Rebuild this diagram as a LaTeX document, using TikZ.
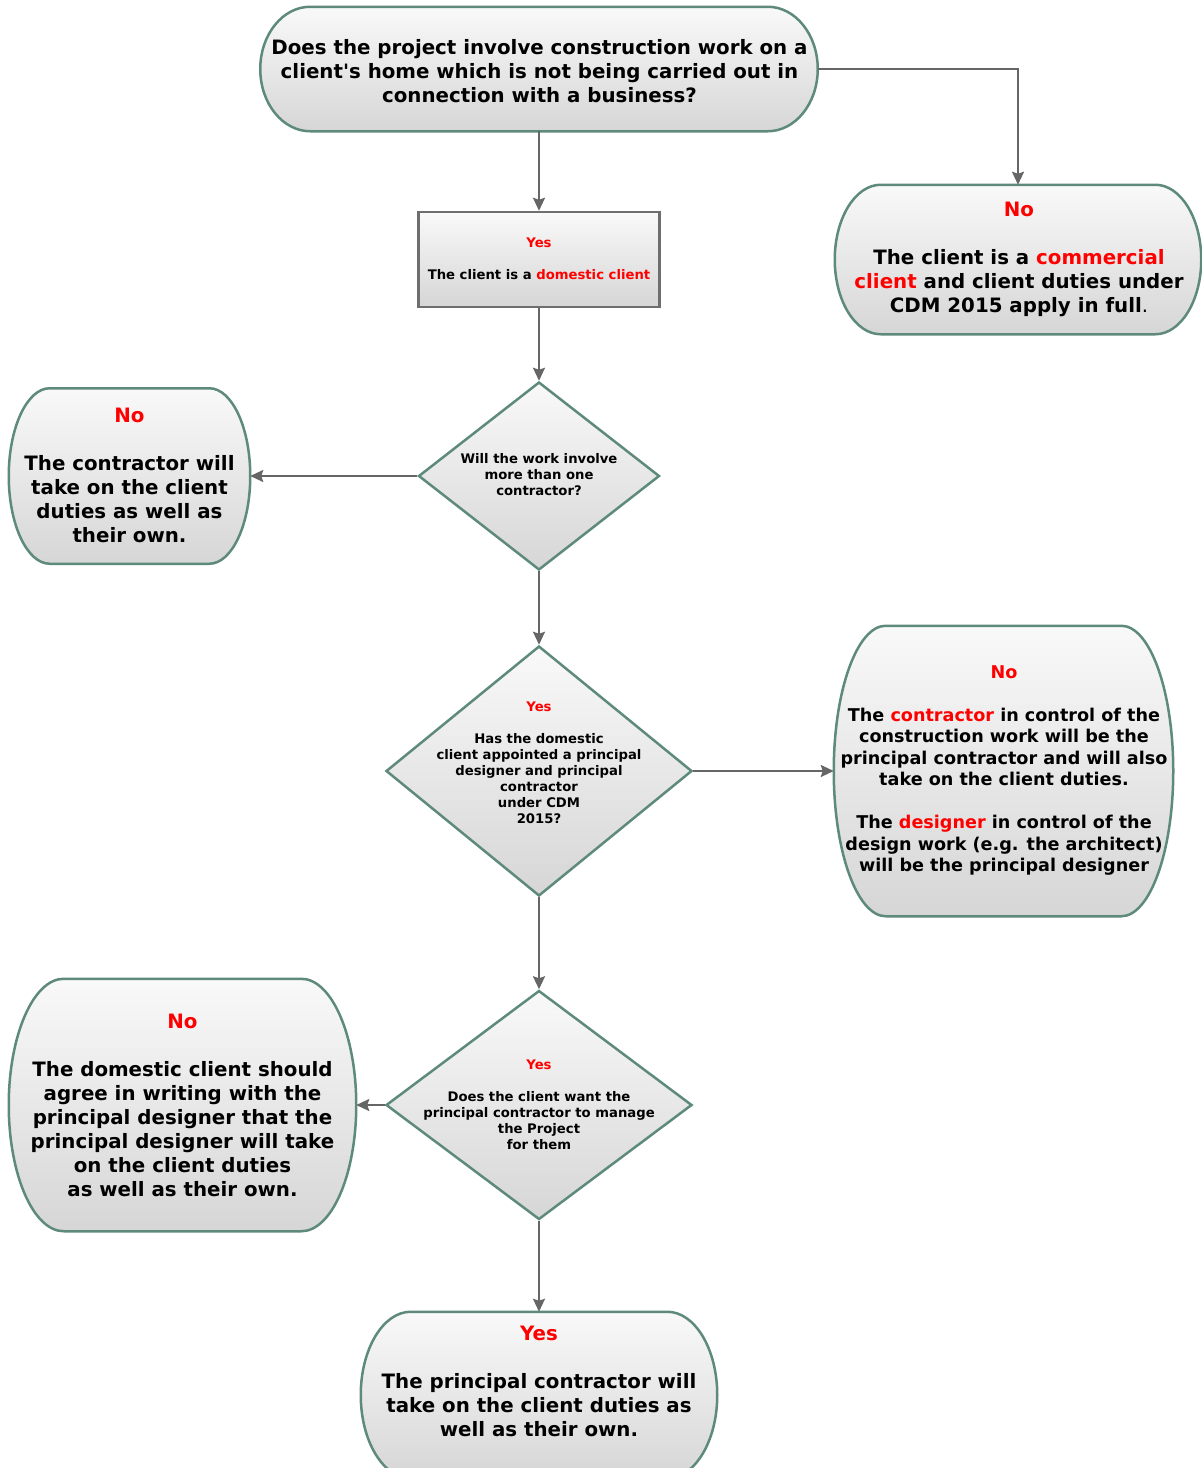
\documentclass[tikz,border=0pt]{standalone}
\usepackage{fontspec}
\setmainfont{DejaVu Sans}
\usetikzlibrary{shapes.geometric,arrows.meta,calc}
\definecolor{edgegreen}{RGB}{94,138,124}
\definecolor{arrowgray}{RGB}{102,102,102}
\definecolor{boxgray}{RGB}{110,110,110}
\definecolor{ired}{RGB}{255,0,0}
\definecolor{shtop}{RGB}{249,249,249}
\definecolor{shbot}{RGB}{214,214,214}
\newcommand\redtx[1]{\textcolor{ired}{#1}}
\newcommand\capsuleshape[2]{%
  \path[capsulestyle] let \p1=(#1.north west), \p2=(#1.south east), \n1={(\y1-\y2)/2} in
    (\x1+#2pt,\y1) -- (\x2-#2pt,\y1)
    arc[start angle=90,end angle=-90,x radius=#2pt,y radius=\n1]
    -- (\x1+#2pt,\y2)
    arc[start angle=270,end angle=90,x radius=#2pt,y radius=\n1] -- cycle;}
\tikzset{
  capsulestyle/.style={draw=edgegreen, line width=2.5pt, top color=shtop, bottom color=shbot},
  holder/.style={rectangle, inner sep=0pt, outer sep=1.25pt},
  dia/.style={diamond, draw=edgegreen, line width=2.5pt, top color=shtop, bottom color=shbot, inner sep=0pt},
  rbox/.style={rectangle, draw=boxgray, line width=2.5pt, top color=shtop, bottom color=shbot, inner sep=0pt},
  bigtxt/.style={font=\fontsize{19.8}{24}\selectfont\bfseries, align=center, inner sep=0pt},
  midtxt/.style={font=\fontsize{17.6}{21.5}\selectfont\bfseries, align=center, inner sep=0pt},
  smalltxt/.style={font=\fontsize{13.2}{16}\selectfont\bfseries, align=center, inner sep=0pt},
  arr/.style={draw=arrowgray, line width=2pt, -{Stealth[length=13pt,width=12pt,inset=2pt]}}
}
\begin{document}
\begin{tikzpicture}[x=1pt,y=1pt]
\useasboundingbox (0,0) rectangle (1202,-1468);
\clip (0,0) rectangle (1202,-1468);
\fill[white] (0,0) rectangle (1202,-1468);
% shape holders
\node[holder, minimum width=555, minimum height=122] (q1) at (539,-69) {};
\node[rbox, minimum width=241, minimum height=95] (yes1) at (539,-259.5) {};
\node[holder, minimum width=364, minimum height=147] (no1) at (1018,-259.5) {};
\node[dia, minimum width=241, minimum height=188] (d1) at (539,-476) {};
\node[holder, minimum width=239, minimum height=173] (no2) at (129.5,-476) {};
\node[dia, minimum width=306, minimum height=250] (d2) at (539,-771) {};
\node[holder, minimum width=337, minimum height=288] (no3) at (1003.5,-771) {};
\node[dia, minimum width=306, minimum height=229] (d3) at (539,-1105) {};
\node[holder, minimum width=345, minimum height=250] (no4) at (182.5,-1105) {};
\node[holder, minimum width=354, minimum height=164] (yes2) at (539,-1395) {};
% capsule outlines
\capsuleshape{q1}{50}
\capsuleshape{no1}{46}
\capsuleshape{no2}{41}
\capsuleshape{no3}{52}
\capsuleshape{no4}{55}
\capsuleshape{yes2}{50}
% texts
\node[bigtxt] (q1t) at (539.5,-71) {Does the project involve construction work on a\\client\textquotesingle s home which is not being carried out in\\connection with a business?};
\node[smalltxt] (yes1t) at (539,-259) {\redtx{Yes}\\[16pt]The client is a \redtx{domestic client}};
\node[bigtxt] (no1t) at (1019,-259) {\redtx{No}\\[24pt]The client is a \redtx{commercial}\\\redtx{client} and client duties under\\CDM 2015 apply in full{\mdseries .}};
\node[smalltxt] (d1t) at (539,-475) {Will the work involve\\more than one\\contractor?};
\node[bigtxt] (no2t) at (129.5,-475.5) {\redtx{No}\\[24pt]The contractor will\\take on the client\\duties as well as\\their own.};
\node[smalltxt] (d2t) at (539,-763) {\redtx{Yes}\\[16pt]Has the domestic\\client appointed a principal\\designer and principal\\contractor\\under CDM\\2015?};
\node[midtxt] (no3t) at (1004,-770.5) {\redtx{No}\\[21.5pt]The \redtx{contractor} in control of the\\construction work will be the\\principal contractor and will also\\take on the client duties.\\[21.5pt]The \redtx{designer} in control of the\\design work (e.g. the architect)\\will be the principal designer};
\node[smalltxt] (d3t) at (539,-1105) {\redtx{Yes}\\[16pt]Does the client want the\\principal contractor to manage\\the Project\\for them};
\node[bigtxt] (no4t) at (182.5,-1105) {\redtx{No}\\[24pt]The domestic client should\\agree in writing with the\\principal designer that the\\principal designer will take\\on the client duties\\as well as their own.};
\node[bigtxt] (yes2t) at (539,-1381) {\redtx{Yes}\\[24pt]The principal contractor will\\take on the client duties as\\well as their own.};
% connectors
\draw[arr] (q1.south) -- (yes1.north);
\draw[arr] (q1.east) -| (no1.north);
\draw[arr] (yes1.south) -- (d1.north);
\draw[arr] (d1.west) -- (no2.east);
\draw[arr] (d1.south) -- (d2.north);
\draw[arr] (d2.east) -- (no3.west);
\draw[arr] (d2.south) -- (d3.north);
\draw[arr] (d3.west) -- (no4.east);
\draw[arr] (d3.south) -- (yes2.north);
\end{tikzpicture}
\end{document}
